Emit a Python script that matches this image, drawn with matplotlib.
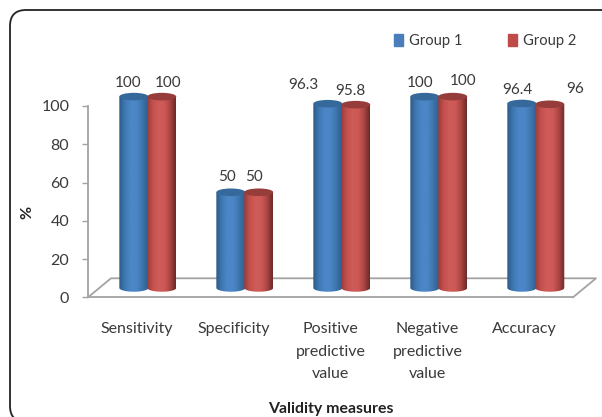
"""Validity measures, two groups, drawn as 3D looking cylinders."""
import numpy as np
import matplotlib
matplotlib.use('Agg')
import matplotlib.pyplot as plt
from matplotlib.colors import LinearSegmentedColormap
from matplotlib.patches import Ellipse, FancyBboxPatch, PathPatch, Patch
from matplotlib.path import Path

categories = ['Sensitivity', 'Specificity', 'Positive\npredictive\nvalue',
              'Negative\npredictive\nvalue', 'Accuracy']
group_1 = [100, 50, 96.3, 100, 96.4]
group_2 = [100, 50, 95.8, 100, 96]
labels_1 = ['100', '50', '96.3', '100', '96.4']
labels_2 = ['100', '50', '95.8', '100', '96']
y_ticks = [0, 20, 40, 60, 80, 100]

# label offsets from the bar top, in pixels
offset_1 = [(-6, 14), (-4, 15), (-24, 19), (-5, 14), (-4, 14)]
offset_2 = [(6, 14), (-5, 15), (-5, 14), (10, 16), (25, 15)]

W, H = 602, 417
FONT = 'Lato'
TEXT = '#3a3a3a'
GREY = '#a3a3a3'
BLUE_TOP = '#36699b'
RED_TOP = '#963c3a'
BLUE_CM = ['#2c5a88', '#3f78b2', '#4c86c6', '#4c86c6', '#3f76ae', '#2f5f8e']
RED_CM = ['#9a3c3a', '#c4514e', '#cf5c59', '#cd5956', '#ab4543', '#6c2a28']

PX_X = 1 / 97        # category units per pixel
PX_Y = 1 / 1.913     # value units per pixel
SHIFT_X = 11.3 * PX_X
SHIFT_Y = 4.9
BAR_W = 29 * PX_X
RY = 3.8 * PX_Y


def draw_cylinder(ax, xc, value, colors, top):
    """Gradient body clipped to a cylinder, ellipse on top."""
    left, right = xc - BAR_W / 2, xc + BAR_W / 2
    y0, y1 = SHIFT_Y, SHIFT_Y + value
    t = np.linspace(np.pi, 2 * np.pi, 40)
    low = np.column_stack([xc + BAR_W / 2 * np.cos(t), y0 + RY * np.sin(t)])
    verts = np.vstack([low, [[right, y1], [left, y1]], low[:1]])
    patch = PathPatch(Path(verts), fc='none', ec='none', transform=ax.transData)
    ax.add_patch(patch)
    cmap = LinearSegmentedColormap.from_list('c', colors)
    im = ax.imshow(np.linspace(0, 1, 64).reshape(1, -1), cmap=cmap, aspect='auto',
                   extent=(left, right, y0 - RY, y1), zorder=3)
    im.set_clip_path(patch)
    ax.add_patch(Ellipse((xc, y1), BAR_W, 2 * RY, fc=top, ec='none', zorder=3))


def main():
    """Build the figure."""
    fig = plt.figure(figsize=(W / 100, H / 100), dpi=100)
    plt.rcParams['font.family'] = FONT

    # rounded frame, its right and bottom sides run off the picture
    frame = FancyBboxPatch((10 / W, -5 / H), 620 / W, 412 / H, transform=fig.transFigure,
                           boxstyle='round,pad=0,rounding_size=%f' % (16 / W),
                           mutation_aspect=W / H, fc='none', ec='#222222', lw=1.3, clip_on=False)
    fig.add_artist(frame)

    ax = fig.add_axes([88 / W, (H - 297.3) / H, 485 / W, 220 / H])
    ax.patch.set_alpha(0)
    x = np.arange(len(categories))

    # floor of the 3D box
    depth_x, depth_y = 23 * PX_X, 19 * PX_Y
    ax.plot([-0.5, -0.5 + depth_x, 4.5 + depth_x, 4.5],
            [0, depth_y, depth_y, 0], color=GREY, lw=1.3, clip_on=False, zorder=1)

    for i in x:
        draw_cylinder(ax, i + SHIFT_X - 0.144, group_1[i], BLUE_CM, BLUE_TOP)
        draw_cylinder(ax, i + SHIFT_X + 0.144, group_2[i], RED_CM, RED_TOP)
        for xc, val, txt, off in ((i + SHIFT_X - 0.144, group_1[i], labels_1[i], offset_1[i]),
                                  (i + SHIFT_X + 0.144, group_2[i], labels_2[i], offset_2[i])):
            ax.annotate(txt, (xc, val + SHIFT_Y), xytext=(off[0] * 0.72, off[1] * 0.72),
                        textcoords='offset points', ha='center', va='center',
                        fontsize=11, color=TEXT, annotation_clip=False)

    ax.set_xlim(-0.5, 4.5)
    ax.set_ylim(0, 115)
    ax.set_xticks(x, categories, linespacing=1.75)
    ax.set_yticks(y_ticks)
    ax.tick_params(axis='x', length=0, pad=18, labelsize=11.5, labelcolor=TEXT)
    ax.tick_params(axis='y', length=4.5, width=1, color=GREY, pad=9, labelsize=11.5, labelcolor=TEXT)
    for name in ('top', 'right'):
        ax.spines[name].set_visible(False)
    ax.spines['left'].set_bounds(0, 100)
    for name in ('left', 'bottom'):
        ax.spines[name].set_color(GREY)
        ax.spines[name].set_linewidth(1.3)

    fig.text(27 / W, 1 - 212 / H, '%', rotation=90, ha='center', va='center',
             fontsize=11.5, fontweight='bold', color='#222222')
    fig.text(331 / W, 1 - 409 / H, 'Validity measures', ha='center', va='center',
             fontsize=11.4, fontweight='bold', color='#222222')

    handles = [Patch(color='#4a7ebb', label='Group 1'), Patch(color='#be4b48', label='Group 2')]
    fig.legend(handles=handles, loc='center left', bbox_to_anchor=(384 / W, 1 - 41 / H),
               ncols=2, frameon=False, fontsize=10.6, labelcolor=TEXT, handlelength=0.6,
               handleheight=0.9, handletextpad=0.4, columnspacing=3.1, borderpad=0.2)

    fig.savefig('out.png', dpi=100)


if __name__ == '__main__':
    main()
